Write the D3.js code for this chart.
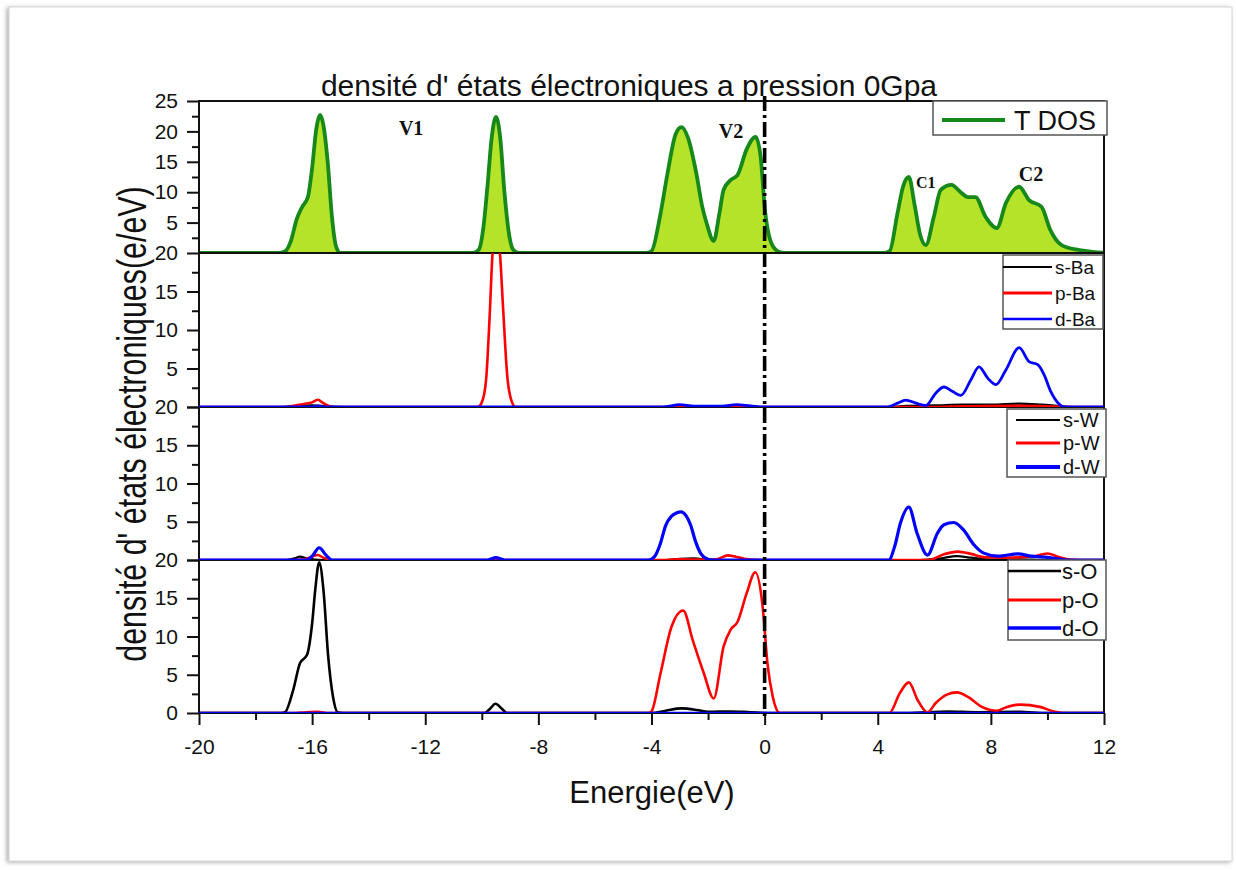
<!DOCTYPE html>
<html>
<head>
<meta charset="utf-8">
<script src="https://cdn.jsdelivr.net/npm/d3@7/dist/d3.min.js"></script>
<style>
  html, body { margin: 0; padding: 0; background: #ffffff; }
  svg { display: block; font-family: "Liberation Sans", Arial, sans-serif; }
</style>
</head>
<body>
<svg id="chart" width="1236" height="870"></svg>
<script>
// ---- Data: energy (eV) vs density of states (e/eV) ----
const energyTicks = [-20, -16, -12, -8, -4, 0, 4, 8, 12];
const energyMinorTicks = [-18, -14, -10, -6, -2, 2, 6, 10];
const totalTicks = [5, 10, 15, 20, 25];
const partialTicks = [0, 5, 10, 15, 20];

const tdos = [[-20,0],[-17.2,0],[-16.95,0.3],[-16.75,2],[-16.55,5.5],[-16.35,7.6],[-16.15,9.2],[-16.0,14],[-15.85,20.5],[-15.72,22.7],[-15.6,21],[-15.45,15],[-15.3,6],[-15.15,1],[-15.0,0],
  [-10.3,0],[-10.1,0.6],[-9.95,4],[-9.8,11],[-9.65,19],[-9.5,22.4],[-9.35,19],[-9.2,10],[-9.05,3.5],[-8.9,0.6],[-8.7,0],
  [-4.2,0],[-4.0,0.3],[-3.7,6],[-3.43,13.2],[-3.15,19.5],[-2.94,20.7],[-2.7,18.8],[-2.42,13.2],[-2.2,7.5],[-2.05,4.9],[-1.8,2.0],[-1.6,6.5],[-1.45,10.4],[-1.2,12],[-0.96,12.8],[-0.64,17],[-0.32,19.1],[-0.14,15.8],[0,7.6],[0.24,1.6],[0.5,0.2],[0.7,0],
  [4.2,0],[4.42,0.3],[4.7,6.6],[4.9,11],[5.1,12.5],[5.3,8],[5.5,3],[5.7,1.3],[5.98,5.9],[6.23,10.4],[6.61,11.2],[6.93,10.0],[7.19,9.2],[7.45,9.2],[7.82,5.9],[8.21,4.1],[8.53,8.2],[9.0,10.9],[9.35,8.7],[9.79,7.6],[10.1,3.8],[10.5,1.3],[11.1,0.5],[11.6,0.2],[12,0.05]];

const sBa = [[-20,0],[-17,0],[-16.5,0.15],[-16,0.2],[-15.5,0.1],[-15,0],[4.5,0],[5,0.15],[6,0.2],[7,0.3],[8,0.3],[9,0.45],[9.8,0.3],[10.5,0.1],[11,0],[12,0]];
const pBa = [[-20,0],[-17,0],[-16.6,0.2],[-16.3,0.4],[-16.0,0.6],[-15.8,0.95],[-15.6,0.5],[-15.35,0.05],[-15.2,0],
  [-10.15,0],[-10.0,0.6],[-9.85,3.5],[-9.72,12],[-9.62,20],[-9.5,23],[-9.36,20],[-9.25,13],[-9.1,4],[-8.95,0.8],[-8.8,0],[6,0],[7,0.1],[9,0.15],[10,0.1],[11,0],[12,0]];
const dBa = [[-20,0],[-16,0],[-15.8,0.15],[-15.6,0],[-3.6,0],[-3.0,0.3],[-2.5,0.1],[-1.5,0.1],[-1.0,0.3],[-0.5,0.15],[0,0],
  [4.35,0],[4.7,0.5],[4.99,0.9],[5.35,0.5],[5.7,0.2],[6.05,1.8],[6.34,2.6],[6.65,2.0],[6.94,1.5],[7.29,3.5],[7.58,5.2],[7.9,3.7],[8.18,2.9],[8.53,4.8],[9.0,7.7],[9.35,5.9],[9.66,5.5],[9.88,4.2],[10.12,2.0],[10.41,0.4],[10.6,0],[12,0]];

const sW = [[-20,0],[-16.9,0],[-16.6,0.25],[-16.43,0.45],[-16.2,0.25],[-15.9,0.05],[-15.6,0],[-3.5,0],[-3,0.15],[-2.5,0.2],[-2,0.05],[-1.5,0],[5.5,0],[6.2,0.2],[6.8,0.5],[7.3,0.3],[8,0.05],[9,0.1],[10,0],[12,0]];
const pW = [[-20,0],[-16.5,0],[-16.2,0.15],[-15.8,0.65],[-15.6,0.3],[-15.3,0],[-3.5,0],[-3,0.1],[-2,0.05],[-1.7,0.1],[-1.3,0.6],[-1.0,0.4],[-0.6,0.1],[0,0],
  [5.8,0],[6.3,0.7],[6.83,1.1],[7.3,0.8],[7.8,0.35],[8.5,0.3],[9.0,0.35],[9.5,0.45],[10.0,0.85],[10.4,0.4],[10.8,0.05],[11.2,0],[12,0]];
const dW = [[-20,0],[-16.2,0],[-16.0,0.5],[-15.75,1.6],[-15.5,0.6],[-15.3,0],[-9.8,0],[-9.5,0.3],[-9.2,0],
  [-4.1,0],[-3.9,0.4],[-3.7,2],[-3.5,4.5],[-3.3,5.7],[-3.12,6.15],[-2.95,6.3],[-2.78,5.8],[-2.62,4.6],[-2.45,2.5],[-2.25,0.8],[-2.0,0.1],[-1.8,0],
  [4.39,0],[4.6,1.8],[4.8,4.8],[5.1,6.9],[5.39,3.5],[5.76,0.65],[6.11,3.5],[6.34,4.6],[6.69,4.9],[7.04,3.9],[7.4,2.0],[7.75,0.9],[8.25,0.5],[8.96,0.8],[9.42,0.5],[10.0,0.35],[10.7,0],[12,0]];

const sO = [[-20,0],[-17.1,0],[-16.96,0.1],[-16.67,3.0],[-16.43,6.5],[-16.18,7.6],[-16.0,11.7],[-15.89,16.1],[-15.75,19.7],[-15.6,16.1],[-15.43,7.3],[-15.26,2.1],[-15.1,0.1],[-14.9,0],
  [-9.9,0],[-9.7,0.6],[-9.52,1.2],[-9.3,0.6],[-9.1,0],[-4.0,0],[-3.5,0.3],[-2.94,0.6],[-2.4,0.4],[-2.0,0.15],[-1.2,0.2],[-0.5,0.1],[0.3,0],[5,0],[6.5,0.2],[7.5,0.1],[9,0.15],[10,0],[12,0]];
const pO = [[-20,0],[-16.6,0],[-16.2,0.1],[-15.8,0.15],[-15.4,0],[-4.1,0],[-4.0,0.2],[-3.68,5.2],[-3.29,11.3],[-2.88,13.4],[-2.54,9.5],[-2.15,5.2],[-1.8,1.9],[-1.45,8.7],[-1.2,10.9],[-0.96,11.9],[-0.64,15.6],[-0.33,18.4],[-0.07,13.9],[0.1,6.5],[0.29,2.1],[0.54,0],
  [4.41,0],[4.78,2.6],[5.1,4.0],[5.41,1.7],[5.76,0.1],[6.05,1.3],[6.44,2.4],[6.8,2.7],[7.19,2.1],[7.68,0.8],[8.21,0.3],[8.57,0.8],[9.03,1.1],[9.73,0.8],[10.23,0.2],[10.72,0],[12,0]];
const dO = [[-20,0],[12,0]];

const bandLabels = ["V1", "V2", "C1", "C2"];
const bandLabelEnergy = [-12.5, -1.19, 5.7, 9.42];
const bandLabelDos = [19.4, 18.9, 10.7, 11.8];

// ---- Layout ----
const svg = d3.select("#chart");
const left = 199, right = 1104;
const panels = [
  { key: "tot", top: 101, bottom: 253, max: 25 },
  { key: "Ba",  top: 253, bottom: 407, max: 20 },
  { key: "W",   top: 407, bottom: 560, max: 20 },
  { key: "O",   top: 560, bottom: 713, max: 20 }
];

// page-like frame with soft shadow
const defs = svg.append("defs");
const sh = defs.append("filter").attr("id", "pageShadow").attr("x", "-5%").attr("y", "-5%").attr("width", "110%").attr("height", "110%");
sh.append("feDropShadow").attr("dx", -2).attr("dy", 1).attr("stdDeviation", 2.2).attr("flood-color", "#8a8a8a").attr("flood-opacity", 0.7);
svg.append("rect").attr("x", 9).attr("y", 7).attr("width", 1223).attr("height", 854)
  .attr("fill", "#ffffff").attr("stroke", "#d6d6d6").attr("stroke-width", 1)
  .attr("filter", "url(#pageShadow)");

const x = d3.scaleLinear().domain([-20, 12]).range([left, right]);
panels.forEach(p => {
  p.y = d3.scaleLinear().domain([0, p.max]).range([p.bottom, p.top]);
  defs.append("clipPath").attr("id", "clip-" + p.key)
    .append("rect").attr("x", left).attr("y", p.top).attr("width", right - left).attr("height", p.bottom - p.top);
});

const lineFor = y => d3.line().x(d => x(d[0])).y(d => y(d[1])).curve(d3.curveMonotoneX);

// ---- Total DOS (filled) ----
const pt = panels[0];
const gT = svg.append("g").attr("clip-path", "url(#clip-tot)");
gT.append("path").datum(tdos)
  .attr("d", d3.area().x(d => x(d[0])).y0(pt.y(0)).y1(d => pt.y(d[1])).curve(d3.curveMonotoneX))
  .attr("fill", "#b5e32a");

// ---- Partial DOS ----
const series = [
  { panel: 1, data: sBa, color: "#000000", w: 2.2 },
  { panel: 1, data: pBa, color: "#ff0000", w: 2.6 },
  { panel: 1, data: dBa, color: "#0000ff", w: 2.8 },
  { panel: 2, data: sW,  color: "#000000", w: 2.2 },
  { panel: 2, data: pW,  color: "#ff0000", w: 2.6 },
  { panel: 2, data: dW,  color: "#0000ff", w: 3.2 },
  { panel: 3, data: sO,  color: "#000000", w: 2.6 },
  { panel: 3, data: pO,  color: "#ff0000", w: 2.6 },
  { panel: 3, data: dO,  color: "#0000ff", w: 2.6 }
];

// panel frames
panels.forEach(p => {
  svg.append("rect").attr("x", left).attr("y", p.top).attr("width", right - left).attr("height", p.bottom - p.top)
    .attr("fill", "none").attr("stroke", "#111").attr("stroke-width", 2);
});

gT.append("path").datum(tdos)
  .attr("d", lineFor(pt.y))
  .attr("fill", "none").attr("stroke", "#16891a").attr("stroke-width", 3.8).attr("stroke-linejoin", "round");

series.forEach(s => {
  const p = panels[s.panel];
  svg.append("g").attr("clip-path", "url(#clip-" + p.key + ")")
    .append("path").datum(s.data)
    .attr("d", lineFor(p.y))
    .attr("fill", "none").attr("stroke", s.color).attr("stroke-width", s.w).attr("stroke-linejoin", "round");
});

// ---- Axes ----
const tickFont = "21px";
panels.forEach((p, i) => {
  const vals = i === 0 ? totalTicks : partialTicks;
  const minor = i === 0 ? [2.5, 7.5, 12.5, 17.5, 22.5] : [2.5, 7.5, 12.5, 17.5];
  const gMin = svg.append("g").attr("transform", `translate(${left},0)`)
    .call(d3.axisLeft(p.y).tickValues(minor).tickSize(7).tickFormat(""));
  gMin.select(".domain").remove();
  gMin.selectAll("line").attr("stroke", "#111").attr("stroke-width", 2);
  const g = svg.append("g").attr("transform", `translate(${left},0)`)
    .call(d3.axisLeft(p.y).tickValues(vals).tickSize(12).tickPadding(9)
      .tickFormat(v => (v === 0 && i !== 3) ? "" : String(v)));
  g.select(".domain").remove();
  g.selectAll("line").attr("stroke", "#111").attr("stroke-width", 2);
  g.selectAll("text").attr("font-size", tickFont).attr("fill", "#111")
    .attr("font-family", "Liberation Sans, Arial, sans-serif");
});

const gxMin = svg.append("g").attr("transform", `translate(0,${panels[3].bottom})`)
  .call(d3.axisBottom(x).tickValues(energyMinorTicks).tickSize(7).tickFormat(""));
gxMin.select(".domain").remove();
gxMin.selectAll("line").attr("stroke", "#111").attr("stroke-width", 2);
const gx = svg.append("g").attr("transform", `translate(0,${panels[3].bottom})`)
  .call(d3.axisBottom(x).tickValues(energyTicks).tickSize(12).tickPadding(14).tickFormat(d3.format("d")));
gx.select(".domain").remove();
gx.selectAll("line").attr("stroke", "#111").attr("stroke-width", 2);
gx.selectAll("text").attr("font-size", tickFont).attr("fill", "#111")
  .attr("font-family", "Liberation Sans, Arial, sans-serif")
  .text(d => d < 0 ? "-" + Math.abs(d) : String(d));

// ---- Fermi level ----
svg.append("line").attr("x1", x(0)).attr("x2", x(0)).attr("y1", 96).attr("y2", 716)
  .attr("stroke", "#000").attr("stroke-width", 3.6).attr("stroke-dasharray", "15,4,3,4");

// ---- Band labels ----
bandLabels.forEach((t, i) => {
  svg.append("text").attr("x", x(bandLabelEnergy[i])).attr("y", pt.y(bandLabelDos[i]))
    .attr("text-anchor", "middle")
    .attr("font-family", "Liberation Serif, 'Times New Roman', serif")
    .attr("font-weight", "bold")
    .attr("font-size", t === "C1" ? "16px" : "20px")
    .attr("fill", "#111").text(t);
});

// ---- Legends ----
const legends = [
  { box: [933, 101, 174, 34], rows: [{ label: "T DOS", color: "#16891a", w: 4, y: 120 }], lx: [942, 1005], tx: 1014, fs: "27px" },
  { box: [1003, 255, 100, 74], rows: [
      { label: "s-Ba", color: "#000", w: 2, y: 267 },
      { label: "p-Ba", color: "#f00", w: 3, y: 293 },
      { label: "d-Ba", color: "#00f", w: 2.4, y: 319 }], lx: [1003, 1052], tx: 1055, fs: "19px" },
  { box: [1007, 409, 99, 68], rows: [
      { label: "s-W", color: "#000", w: 2, y: 420 },
      { label: "p-W", color: "#f00", w: 3, y: 443 },
      { label: "d-W", color: "#00f", w: 4, y: 467 }], lx: [1016, 1060], tx: 1063, fs: "20px" },
  { box: [1008, 560, 98, 80], rows: [
      { label: "s-O", color: "#000", w: 2.4, y: 571 },
      { label: "p-O", color: "#f00", w: 3, y: 600 },
      { label: "d-O", color: "#00f", w: 3.4, y: 628 }], lx: [1008, 1061], tx: 1062, fs: "22px" }
];
legends.forEach(l => {
  svg.append("rect").attr("x", l.box[0]).attr("y", l.box[1]).attr("width", l.box[2]).attr("height", l.box[3])
    .attr("fill", "#fff").attr("stroke", "#555").attr("stroke-width", 1.5);
  l.rows.forEach(r => {
    svg.append("line").attr("x1", l.lx[0]).attr("x2", l.lx[1]).attr("y1", r.y).attr("y2", r.y)
      .attr("stroke", r.color).attr("stroke-width", r.w);
    svg.append("text").attr("x", l.tx).attr("y", r.y).attr("dy", "0.36em")
      .attr("font-size", l.fs).attr("fill", "#111").text(r.label);
  });
});

// ---- Titles ----
svg.append("text").attr("x", 629).attr("y", 96).attr("text-anchor", "middle")
  .attr("font-size", "30px").attr("fill", "#111")
  .text("densité d' états électroniques a pression 0Gpa");

svg.append("text").attr("x", 652).attr("y", 803).attr("text-anchor", "middle")
  .attr("font-size", "31px").attr("fill", "#111").text("Energie(eV)");

svg.append("text")
  .attr("transform", "translate(146,424) rotate(-90) scale(0.76,1)")
  .attr("text-anchor", "middle")
  .attr("font-size", "40px").attr("fill", "#111")
  .text("densité d' états électroniques(e/eV)");
</script>
</body>
</html>
